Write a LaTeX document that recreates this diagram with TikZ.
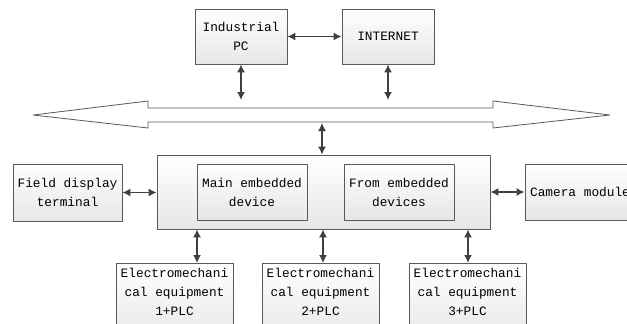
\documentclass[tikz,border=0pt]{standalone}
\usepackage{fontspec}
\setmonofont{Liberation Mono}
\usetikzlibrary{arrows.meta,shadows}
\definecolor{vien}{HTML}{595959}
\definecolor{muiten}{HTML}{404040}
\definecolor{nen}{HTML}{E6E6E6}
\tikzset{
	hop/.style={draw=vien, line width=.8pt, top color=white, bottom color=nen,
		drop shadow={shadow xshift=1pt, shadow yshift=-1pt, opacity=.25, fill=gray},
		align=center, inner sep=0pt, font=\ttfamily\fontsize{12.8}{19}\selectfont},
	noi/.style={<->, draw=muiten, line width=1.4pt}
}
\begin{document}
\begin{tikzpicture}[x=1pt, y=-1pt, line join=round, >={Latex[length=8pt,width=8pt]}]
	\useasboundingbox (0,0) rectangle (627,324);
	\clip (0,0) rectangle (627,324);
	% duong truyen (bus)
	\draw[vien, line width=.8pt, fill=white]
	(33,115)--(148,101)--(148,108)--(493,108)--(493,101)--(610,115)
	--(493,128)--(493,122)--(148,122)--(148,128)--cycle;
	\coordinate (busA) at (241,100);
	\coordinate (busB) at (388,100);
	\coordinate (busC) at (322,123);
	\path 
	(241,36.5) node[hop, minimum width=92, minimum height=55] (ipc) {Industrial\\PC}
	(388,36.5) node[hop, minimum width=92, minimum height=55] (inet) {INTERNET}
	(323.5,192) node[hop, minimum width=333, minimum height=74] (main) {}
	(252,192) node[hop, minimum width=110, minimum height=56] (mainemb) {Main embedded\\device}
	(399,192) node[hop, minimum width=110, minimum height=56] (fromemb) {From embedded\\devices}
	(67.5,192.5) node[hop, minimum width=109, minimum height=57] (field) {Field display\\terminal}
	(580,192) node[hop, minimum width=110, minimum height=56] (cam) {Camera module}
	(174.5,263) node[hop, anchor=north, minimum width=117, inner ysep=5pt] (eqA) {Electromechani\\cal equipment\\1+PLC\\\strut}
	(320.5,263) node[hop, anchor=north, minimum width=117, inner ysep=5pt] (eqB) {Electromechani\\cal equipment\\2+PLC\\\strut}
	(467.5,263) node[hop, anchor=north, minimum width=117, inner ysep=5pt] (eqC) {Electromechani\\cal equipment\\3+PLC\\\strut};
	\draw[noi] (ipc)--(inet);
	\draw[noi] (ipc)--(busA);
	\draw[noi] (inet)--(busB);
	\draw[noi] (busC)--(busC |- main.north);
	\draw[noi] (field)--(field -| main.west);
	\draw[noi] (cam.west -| main.east)--(cam);
	\draw[noi] ([xshift=22.5]eqA.north |- main.south)--([xshift=22.5]eqA.north);
	\draw[noi] ([xshift=2.5]eqB.north |- main.south)--([xshift=2.5]eqB.north);
	\draw[noi] ([xshift=.5]eqC.north |- main.south)--([xshift=.5]eqC.north);
\end{tikzpicture}
\end{document}
